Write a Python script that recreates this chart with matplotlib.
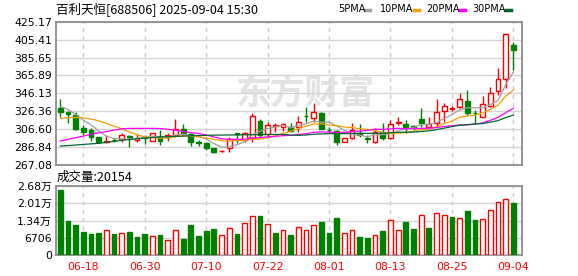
import matplotlib
matplotlib.use("Agg")
import matplotlib.pyplot as plt
from matplotlib.patches import Rectangle
from matplotlib.lines import Line2D

plt.rcParams['font.family'] = ['DejaVu Sans', 'Noto Sans CJK SC']

# daily data, 2025-06-13 .. 2025-09-04
dates = ["06-13", "06-16", "06-17", "06-18", "06-19", "06-20", "06-23", "06-24", "06-25", "06-26",
         "06-27", "06-30", "07-01", "07-02", "07-03", "07-04", "07-07", "07-08", "07-09", "07-10",
         "07-11", "07-14", "07-15", "07-16", "07-17", "07-18", "07-21", "07-22", "07-23", "07-24",
         "07-25", "07-28", "07-29", "07-30", "07-31", "08-01", "08-04", "08-05", "08-06", "08-07",
         "08-08", "08-11", "08-12", "08-13", "08-14", "08-15", "08-18", "08-19", "08-20", "08-21",
         "08-22", "08-25", "08-26", "08-27", "08-28", "08-29", "09-01", "09-02", "09-03", "09-04"]

opens = [330.3, 325.2, 322.2, 308.2, 305.7, 297.6, 293.0, 295.2, 295.4, 298.8,
         294.6, 298.0, 293.9, 299.0, 298.3, 300.2, 306.4, 301.3, 292.2, 291.0,
         285.5, 282.3, 285.5, 302.3, 294.6, 296.5, 315.6, 301.3, 310.3, 309.3,
         309.3, 308.6, 321.5, 318.6, 324.8, 306.0, 304.9, 292.8, 296.5, 302.0,
         296.8, 292.8, 303.8, 296.5, 313.1, 312.3, 309.8, 317.8, 309.3, 313.1,
         327.0, 329.3, 330.7, 337.7, 324.5, 320.3, 332.2, 348.7, 361.6, 399.5]
highs = [339.5, 326.5, 325.5, 311.2, 307.9, 298.5, 300.2, 297.0, 302.0, 300.5,
         301.3, 300.2, 302.3, 305.7, 302.0, 317.5, 312.0, 302.0, 294.6, 292.8,
         286.0, 283.6, 298.3, 302.7, 303.8, 324.8, 317.5, 314.2, 313.1, 313.1,
         313.1, 321.1, 330.7, 335.8, 325.5, 309.3, 305.5, 296.5, 313.7, 312.3,
         300.2, 307.5, 313.1, 316.7, 319.7, 316.7, 311.2, 329.6, 320.3, 339.9,
         335.8, 332.2, 346.8, 349.8, 327.7, 343.2, 353.4, 373.7, 413.0, 403.1]
lows = [320.3, 313.1, 305.7, 300.2, 293.9, 291.5, 291.0, 292.5, 292.8, 286.9,
        292.8, 290.2, 293.5, 289.1, 293.9, 297.9, 300.2, 287.5, 288.0, 283.6,
        280.8, 281.1, 281.7, 291.0, 292.8, 292.8, 298.3, 298.3, 303.8, 304.5,
        303.8, 303.8, 314.8, 314.8, 306.3, 302.0, 289.1, 292.0, 296.0, 297.6,
        291.0, 291.0, 294.6, 296.0, 311.2, 302.0, 305.7, 309.3, 307.5, 310.1,
        314.8, 327.0, 329.6, 322.2, 313.7, 319.7, 330.7, 344.3, 351.7, 371.8]
closes = [325.9, 323.3, 306.8, 303.1, 297.9, 292.4, 293.8, 294.2, 300.2, 298.0,
          296.5, 297.3, 302.0, 293.9, 300.2, 306.4, 302.7, 292.8, 291.5, 285.5,
          281.1, 282.9, 295.7, 301.8, 302.0, 321.1, 300.2, 311.2, 311.0, 312.0,
          304.9, 314.2, 320.8, 325.2, 306.8, 305.5, 292.1, 296.5, 305.7, 300.2,
          296.3, 303.8, 296.5, 312.3, 314.8, 309.3, 309.3, 313.7, 312.0, 325.2,
          332.2, 330.0, 339.5, 324.8, 323.9, 334.0, 346.8, 361.6, 411.3, 393.9]

volumes = [25120, 13350, 11780, 9030, 8240, 8640, 9680, 8240, 8500, 9030,
           7070, 8240, 7330, 7850, 5890, 9680, 6280, 11780, 7460, 9420,
           9940, 7720, 10470, 8240, 12430, 15050, 15310, 12040, 8640, 9680,
           7850, 10860, 9680, 11650, 12950, 8500, 14520, 8500, 9680, 6940,
           6670, 7720, 9420, 13610, 9680, 12950, 10210, 15570, 10600, 16360,
           15570, 14790, 14390, 17270, 13740, 14000, 17660, 20670, 21850, 20154]
# 1 = red (hollow) bar, 0 = green bar
vol_up = [0, 0, 0, 0, 0, 0, 1, 0, 1, 0,
          0, 0, 1, 0, 1, 1, 0, 0, 0, 0,
          0, 1, 1, 0, 1, 1, 0, 1, 0, 1,
          0, 1, 1, 1, 0, 0, 0, 1, 1, 0,
          0, 1, 0, 1, 1, 0, 0, 1, 0, 1,
          1, 0, 1, 0, 0, 1, 1, 1, 1, 0]

ma5 = [331.5, 328.5, 323.0, 316.5, 311.4, 304.7, 298.8, 296.3, 295.7, 295.7,
       296.5, 297.2, 298.8, 297.5, 298.0, 300.0, 301.0, 299.2, 298.7, 295.8,
       290.7, 286.8, 287.3, 289.4, 292.7, 300.7, 304.2, 307.3, 309.1, 311.1,
       307.9, 310.7, 312.6, 315.4, 314.4, 314.5, 310.1, 305.2, 301.3, 300.0,
       298.2, 300.5, 300.5, 301.8, 304.7, 307.3, 308.4, 311.9, 311.8, 313.9,
       318.5, 322.6, 327.8, 330.3, 330.1, 330.4, 333.8, 338.2, 355.5, 369.5]
ma10 = [318.5, 319.2, 319.5, 319.0, 317.8, 315.8, 313.0, 310.0, 306.8, 303.6,
        300.6, 298.0, 297.5, 296.6, 296.9, 298.3, 299.1, 299.0, 298.1, 296.9,
        295.3, 293.9, 293.3, 294.1, 294.2, 295.7, 295.5, 297.3, 299.3, 301.9,
        304.3, 307.4, 309.9, 312.3, 312.7, 311.2, 310.4, 308.9, 308.4, 307.2,
        306.3, 305.3, 302.9, 301.6, 302.4, 302.8, 304.5, 306.2, 306.8, 309.3,
        312.9, 315.5, 319.8, 321.1, 322.0, 324.5, 328.2, 333.0, 342.9, 349.8]
ma20 = [293.5, 295.4, 297.2, 299.0, 300.9, 302.7, 303.8, 305.7, 307.0, 307.5,
        307.5, 307.5, 307.5, 307.3, 306.5, 305.5, 304.0, 302.8, 301.8, 300.2,
        298.0, 296.0, 295.4, 295.3, 295.5, 297.0, 297.3, 298.2, 298.7, 299.4,
        299.8, 300.7, 301.6, 303.2, 303.5, 303.4, 302.9, 303.1, 303.8, 304.5,
        305.3, 306.4, 306.4, 306.9, 307.6, 307.0, 307.4, 307.5, 307.6, 308.3,
        309.6, 310.4, 311.3, 311.3, 312.2, 313.6, 316.3, 319.6, 324.9, 329.6]
ma30 = [288.0, 288.5, 289.1, 289.8, 290.4, 291.0, 292.1, 293.2, 294.2, 295.2,
        296.0, 296.8, 297.4, 297.9, 298.3, 298.7, 299.0, 299.3, 299.6, 299.8,
        300.0, 300.1, 300.2, 300.3, 300.4, 300.5, 300.6, 300.7, 300.8, 300.8,
        300.1, 299.8, 300.2, 301.0, 301.3, 301.7, 301.7, 301.7, 301.9, 302.0,
        302.0, 302.2, 302.0, 302.6, 303.1, 303.2, 303.4, 304.1, 304.8, 306.1,
        307.8, 309.4, 310.9, 311.6, 312.4, 312.8, 314.4, 316.0, 319.4, 322.1]

price_ticks = [267.08, 286.84, 306.60, 326.36, 346.13, 365.89, 385.65, 405.41, 425.17]
vol_ticks = [0, 6706, 13412, 20118, 26824]
vol_tick_labels = ["0", "6706", "1.34万", "2.01万", "2.68万"]
date_ticks = ["06-18", "06-30", "07-10", "07-22", "08-01", "08-13", "08-25", "09-04"]

ma_names = ["5PMA", "10PMA", "20PMA", "30PMA"]
ma_colors = ["#a0a0a0", "#f0a000", "#ff00ff", "#006633"]

RED = "#ff0000"
GREEN = "#008000"
GRID = "#d4d4d4"
FRAME = "#8c8c8c"

W, H = 578, 276
fig = plt.figure(figsize=(W / 100, H / 100), dpi=100)
ax = fig.add_axes([56 / W, 1 - 165 / H, 466 / W, 143.3 / H])
axv = fig.add_axes([56 / W, 1 - 255 / H, 466 / W, 69 / H])

n = len(dates)
xs = list(range(n))
tick_pos = [dates.index(d) for d in date_ticks]
bw = 0.62

for a in (ax, axv):
    a.set_xlim(-0.56, 60.13)
    a.set_axisbelow(True)
    a.set_xticks(tick_pos)
    a.xaxis.grid(True, color="#cccccc", lw=1, ls=(0, (3, 3)))
    a.yaxis.grid(True, color=GRID, lw=1, ls="-")
    a.tick_params(length=0, labelsize=7.8, pad=3)
    for s in a.spines.values():
        s.set_color(FRAME)
        s.set_linewidth(1.3)
axv.tick_params(axis="x", pad=5)

# price panel
ax.set_ylim(price_ticks[0], price_ticks[-1])
ax.set_yticks(price_ticks)
ax.set_yticklabels(["%.2f" % t for t in price_ticks])
ax.set_xticklabels([])

# watermark
ax.text(0.535, 0.5, "东方财富", transform=ax.transAxes, ha="center", va="center",
        fontsize=25, fontweight="bold", color="#e3e3e3", family=["Noto Sans CJK SC"], zorder=0.1)

for i in xs:
    o, h, l, c = opens[i], highs[i], lows[i], closes[i]
    up = c >= o
    col = RED if up else GREEN
    ax.vlines(i, l, h, color=col, lw=1, zorder=2)
    ax.add_patch(Rectangle((i - bw / 2, min(o, c)), bw, abs(c - o),
                           facecolor="white" if up else col, edgecolor=col, lw=1, zorder=3))

for vals, col in zip([ma5, ma10, ma20, ma30], ma_colors):
    ax.plot(xs, vals, color=col, lw=0.9, zorder=4)

# volume panel
axv.set_ylim(0, vol_ticks[-1])
axv.set_yticks(vol_ticks)
axv.set_yticklabels(vol_tick_labels)
axv.set_xticklabels(date_ticks, color=RED)
for i in xs:
    col = RED if vol_up[i] else GREEN
    axv.bar(i, volumes[i], width=bw, facecolor="white" if vol_up[i] else col,
            edgecolor=col, lw=1, zorder=3)

# texts
fig.text(56 / W, 1 - 9.5 / H, "百利天恒[688506] 2025-09-04 15:30", ha="left", va="center",
         fontsize=9, family=["Noto Sans CJK SC"])
fig.text(57 / W, 1 - 177 / H, "成交量:%d" % volumes[-1], ha="left", va="center",
         fontsize=9, family=["Noto Sans CJK SC"])

leg_x = [338, 380, 426, 472]
for name, col, lx in zip(ma_names, ma_colors, leg_x):
    fig.text(lx / W, 1 - 9.5 / H, name, ha="left", va="center", fontsize=7.0)
    dash_x = lx + (27 if name == "5PMA" else 34)
    fig.add_artist(Line2D([dash_x / W, (dash_x + 5) / W], [1 - 9.5 / H, 1 - 9.5 / H],
                          color=col, lw=2.5, transform=fig.transFigure))

fig.savefig("out.png", dpi=100)
